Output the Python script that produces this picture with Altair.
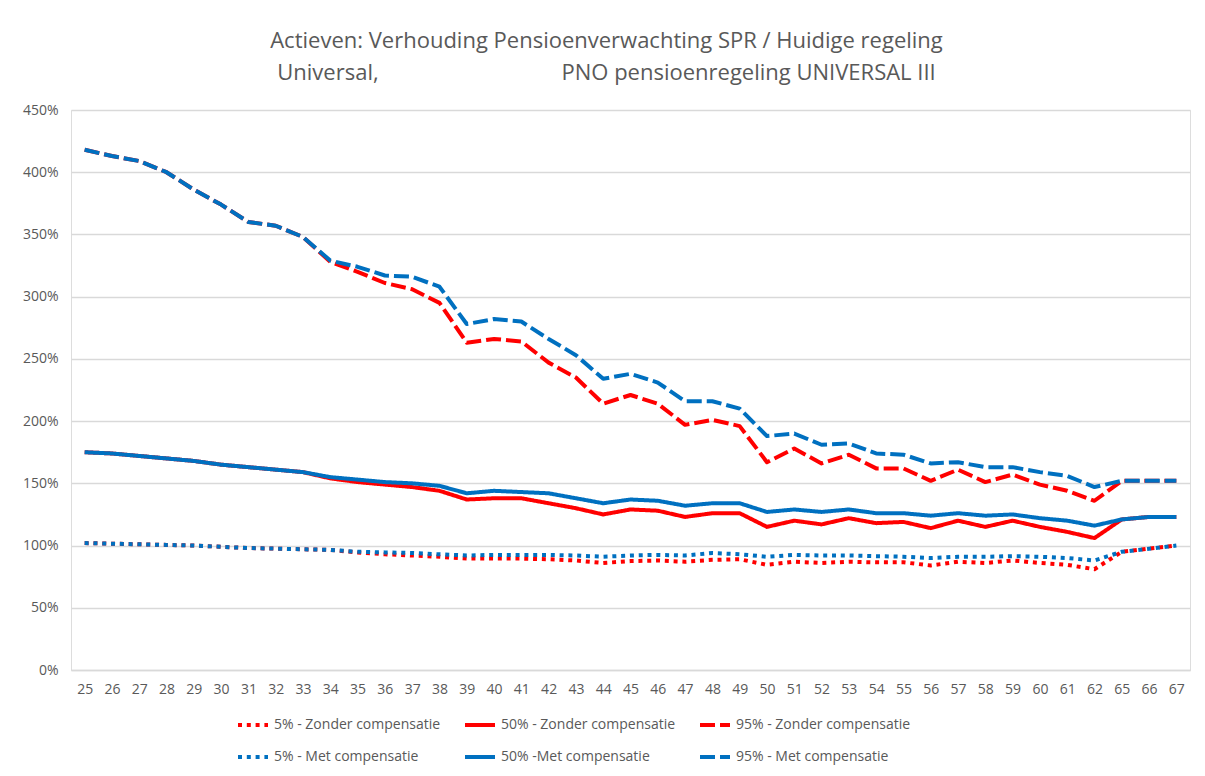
import altair as alt
import pandas as pd

ages = [25, 26, 27, 28, 29, 30, 31, 32, 33, 34, 35, 36, 37, 38, 39, 40, 41, 42, 43, 44,
        45, 46, 47, 48, 49, 50, 51, 52, 53, 54, 55, 56, 57, 58, 59, 60, 61, 62, 65, 66, 67]

p5_zonder = [102, 101.5, 101, 100.5, 100, 99, 98, 97.5, 97, 96.5, 94.5, 93, 92, 91, 89.5, 89.5, 89.5, 89, 88, 86,
             87.5, 88, 87, 88.5, 89, 84.5, 87, 86, 87, 86.5, 86.5, 84, 87, 86, 88, 86, 84.5, 81, 95, 97.5, 100]
p50_zonder = [175, 174, 172, 170, 168, 165, 163, 161, 159, 154, 151, 149, 147, 144, 137, 138, 138, 134, 130, 125,
              129, 128, 123, 126, 126, 115, 120, 117, 122, 118, 119, 114, 120, 115, 120, 115, 111, 106, 121, 123, 123]
p95_zonder = [418, 413, 409, 400, 386, 374, 360, 357, 348, 328, 320, 311, 306, 295, 263, 266, 264, 247, 235, 214,
              221, 214, 197, 201, 196, 167, 178, 166, 173, 162, 162, 152, 161, 151, 157, 149, 144, 136, 152, 152, 152]
p5_met = [102, 101.5, 101, 100.5, 100, 99, 98, 97.5, 97, 96.5, 95, 94.5, 94, 93, 92, 92.5, 92.5, 92.5, 92, 91,
          92, 92.5, 92, 94, 93, 91, 92.5, 92, 92, 91.5, 91, 90, 91, 91, 91.5, 91, 90, 88, 95, 97.5, 100]
p50_met = [175, 174, 172, 170, 168, 165, 163, 161, 159, 155, 153, 151, 150, 148, 142, 144, 143, 142, 138, 134,
           137, 136, 132, 134, 134, 127, 129, 127, 129, 126, 126, 124, 126, 124, 125, 122, 120, 116, 121, 123, 123]
p95_met = [418, 413, 409, 400, 386, 374, 360, 357, 348, 329, 324, 317, 316, 308, 278, 282, 280, 266, 253, 234,
           238, 231, 216, 216, 210, 188, 190, 181, 182, 174, 173, 166, 167, 163, 163, 159, 156, 147, 152, 152, 152]

series_names = ["5% - Zonder compensatie", "50% - Zonder compensatie", "95% - Zonder compensatie",
                "5% - Met compensatie", "50% -Met compensatie", "95% - Met compensatie"]
series_values = [p5_zonder, p50_zonder, p95_zonder, p5_met, p50_met, p95_met]
series_colors = ["#FF0000", "#FF0000", "#FF0000", "#0070C0", "#0070C0", "#0070C0"]
series_dashes = [[4, 4.8], [1, 0], [15, 5], [4, 4.8], [1, 0], [15, 5]]

title_line1 = "Actieven: Verhouding Pensioenverwachting SPR / Huidige regeling"
title_line2 = "Universal," + "\u00a0" * 32 + "PNO pensioenregeling UNIVERSAL III"

rows = []
for k, (name, vals) in enumerate(zip(series_names, series_values)):
    for a, v in zip(ages, vals):
        rows.append({"series": name, "age": str(a), "value": v, "k": k})
df = pd.DataFrame(rows)

FONT = "Open Sans"
GRAY = "#595959"

legend = alt.Legend(title=None, orient="none", legendX=165, legendY=598,
                    direction="horizontal", columns=3,
                    symbolType="stroke", symbolStrokeWidth=4, symbolSize=900,
                    labelFont=FONT, labelFontSize=14, labelColor=GRAY,
                    rowPadding=7, columnPadding=16, labelLimit=250)

chart = alt.Chart(df).mark_line(strokeWidth=4, strokeJoin="round").encode(
    x=alt.X("age:N", sort=[str(a) for a in ages], title=None,
            scale=alt.Scale(type="point", padding=0.5),
            axis=alt.Axis(labelAngle=0, ticks=False, domainColor="#d9d9d9", domainWidth=1.5,
                          labelColor=GRAY, labelFontSize=14, labelFont=FONT, labelPadding=12, grid=False)),
    y=alt.Y("value:Q", title=None,
            scale=alt.Scale(domain=[0, 450]),
            axis=alt.Axis(values=list(range(0, 451, 50)), labelExpr="datum.value + '%'",
                          ticks=False, domain=False, gridColor="#d9d9d9", gridWidth=1.5,
                          labelColor=GRAY, labelFontSize=14, labelFont=FONT, labelPadding=13)),
    color=alt.Color("series:N", sort=series_names,
                    scale=alt.Scale(domain=series_names, range=series_colors),
                    legend=legend),
    strokeDash=alt.StrokeDash("series:N", sort=series_names,
                              scale=alt.Scale(domain=series_names, range=series_dashes),
                              legend=legend),
    detail="k:O",
).properties(
    width=1119,
    height=560,
    title=alt.TitleParams(
        text=[title_line1, title_line2],
        font=FONT, fontSize=22, fontWeight="normal", color=GRAY,
        anchor="middle", offset=18, lineHeight=32, dx=-24),
    autosize=alt.AutoSizeParams(type="none"),
    padding={"left": 63, "top": 102, "right": 7, "bottom": 96},
).configure_view(stroke=None).configure(background="white")

chart.save("out.html", embed_options={"renderer": "svg", "actions": False})
